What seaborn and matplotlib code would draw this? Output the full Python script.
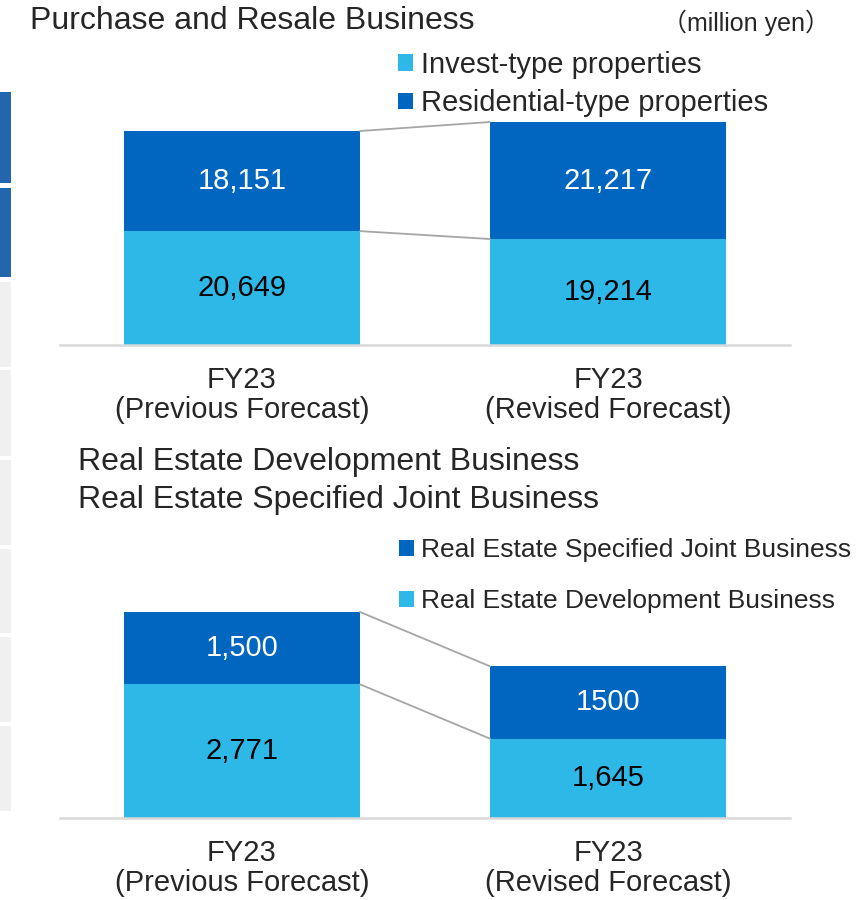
import matplotlib
matplotlib.use("Agg")
import matplotlib.pyplot as plt
import seaborn as sns
from matplotlib.patches import Patch, Rectangle

# categories shared by both panels
categories = ["FY23\n(Previous Forecast)", "FY23\n(Revised Forecast)"]

# Purchase and Resale Business (million yen)
invest_type = [20649, 19214]
residential_type = [18151, 21217]

# Real Estate Development / Specified Joint Business (million yen)
development = [2771, 1645]
specified_joint = [1500, 1500]
specified_joint_labels = ["1,500", "1500"]

LIGHT = "#2DB8E7"
DARK = "#0066BF"
CONNECT = "#A6A6A6"

sns.set_theme(style="white")
plt.rcParams["font.family"] = ["Liberation Sans", "Noto Sans CJK JP", "DejaVu Sans"]

W, H = 856, 900
fig = plt.figure(figsize=(W / 100, H / 100), dpi=100)


def px_axes(left, top, right, bottom):
    return fig.add_axes([left / W, 1 - bottom / H, (right - left) / W, (bottom - top) / H])


def stacked(ax, lower, upper, ymax, upper_labels=None):
    totals = [a + b for a, b in zip(lower, upper)]
    sns.barplot(x=categories, y=totals, color=DARK, saturation=1, width=0.645,
                linewidth=0, ax=ax)
    sns.barplot(x=categories, y=lower, color=LIGHT, saturation=1, width=0.645,
                linewidth=0, ax=ax)

    # connector lines between the bars
    hw = 0.645 / 2
    ax.plot([hw, 1 - hw], totals, color=CONNECT, lw=1.3, zorder=1)
    ax.plot([hw, 1 - hw], lower, color=CONNECT, lw=1.3, zorder=1)

    ax.bar_label(ax.containers[1], labels=[f"{v:,}" for v in lower],
                 label_type="center", fontsize=21, color="black")
    if upper_labels is None:
        upper_labels = [f"{v:,}" for v in upper]
    for i, (lo, up) in enumerate(zip(lower, upper)):
        ax.text(i, lo + up / 2, upper_labels[i], ha="center", va="center",
                fontsize=21, color="white")

    ax.set_xlim(-0.497, 1.497)
    ax.set_ylim(0, ymax)
    ax.set_yticks([])
    ax.set_ylabel("")
    ax.set_xlabel("")
    for s in ["left", "right", "top"]:
        ax.spines[s].set_visible(False)
    ax.spines["bottom"].set_color("#D9D9D9")
    ax.spines["bottom"].set_linewidth(1.8)
    ax.tick_params(axis="x", length=0, pad=15, labelsize=21)
    for lab in ax.get_xticklabels():
        lab.set_linespacing(1.08)
    ax.patch.set_alpha(0)


ax1 = px_axes(60, 100, 790, 345)
stacked(ax1, invest_type, residential_type, 44421)

ax2 = px_axes(60, 590, 790, 818)
stacked(ax2, development, specified_joint, 4727, specified_joint_labels)

# titles
fig.text(30 / W, 1 - 21 / H, "Purchase and Resale Business", fontsize=23, va="center")
fig.text(830 / W, 1 - 23 / H, "（million yen）", fontsize=18, va="center", ha="right")
fig.text(78 / W, 1 - 462 / H, "Real Estate Development Business", fontsize=23, va="center")
fig.text(78 / W, 1 - 500 / H, "Real Estate Specified Joint Business", fontsize=23, va="center")

# legends
fig.legend(handles=[Patch(facecolor=LIGHT, edgecolor="none", label="Invest-type properties"),
                    Patch(facecolor=DARK, edgecolor="none", label="Residential-type properties")],
           loc="upper left", bbox_to_anchor=(398 / W, 1 - 51 / H), frameon=False,
           fontsize=21, handlelength=0.5, handleheight=0.5, handletextpad=0.28,
           labelspacing=0.35, borderpad=0, borderaxespad=0)
fig.legend(handles=[Patch(facecolor=DARK, edgecolor="none", label="Real Estate Specified Joint Business"),
                    Patch(facecolor=LIGHT, edgecolor="none", label="Real Estate Development Business")],
           loc="upper left", bbox_to_anchor=(399 / W, 1 - 538 / H), frameon=False,
           fontsize=19, handlelength=0.55, handleheight=0.55, handletextpad=0.28,
           labelspacing=1.04, borderpad=0, borderaxespad=0)

# cut-off table strip at the left edge
strip = [(92, 183, "#2466AE"), (188, 277, "#2466AE"), (282, 367, "#F0F0F0"),
         (370, 456, "#F0F0F0"), (460, 545, "#F0F0F0"), (549, 633, "#F0F0F0"),
         (637, 722, "#F0F0F0"), (726, 811, "#F0F0F0")]
for y0, y1, c in strip:
    fig.add_artist(Rectangle((0, 1 - y1 / H), 11 / W, (y1 - y0) / H,
                             transform=fig.transFigure, facecolor=c, edgecolor="none"))

fig.savefig("out.png", dpi=100)
